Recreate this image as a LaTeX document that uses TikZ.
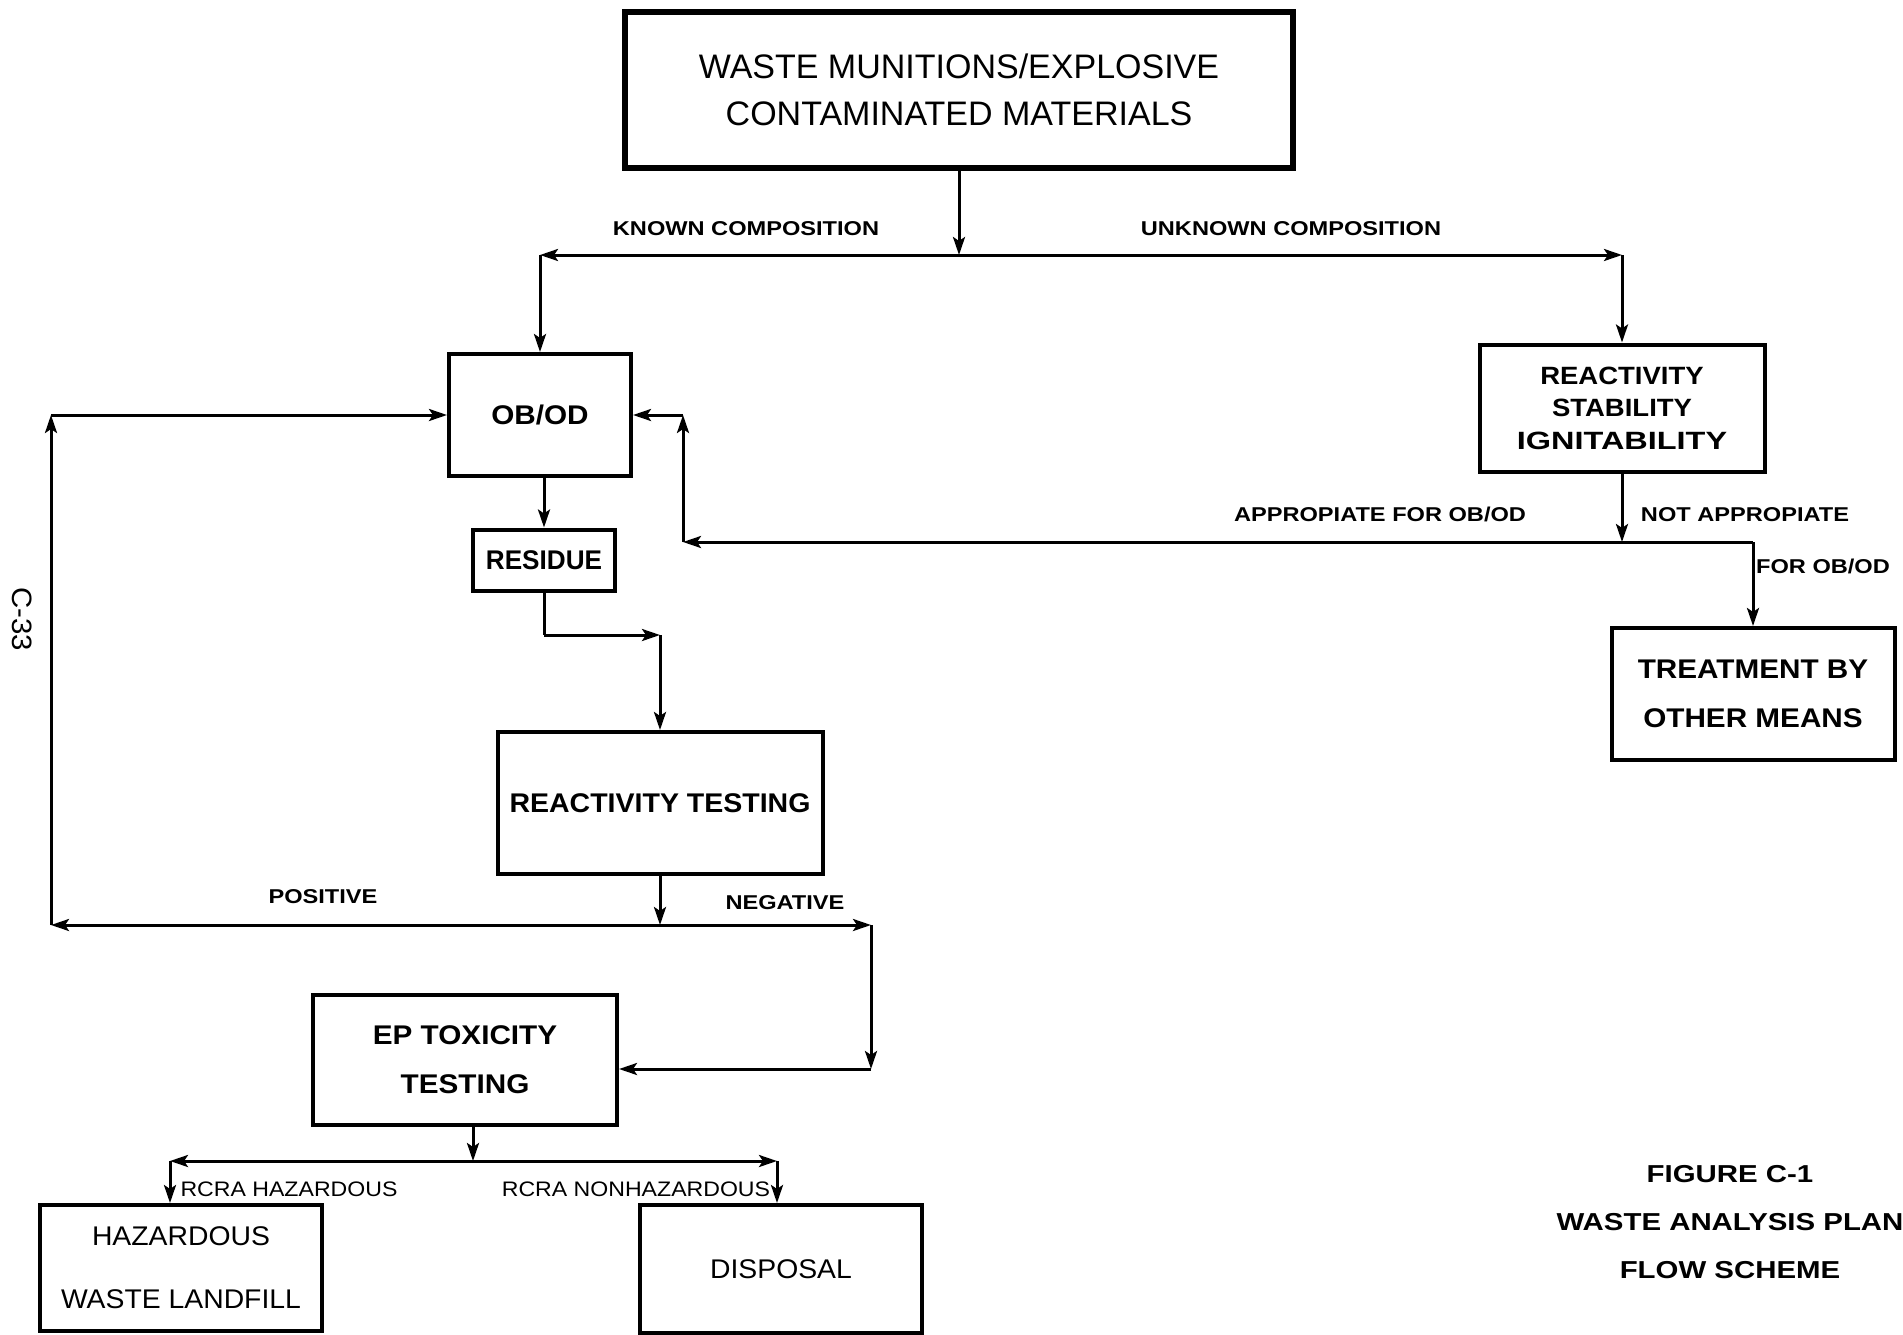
\documentclass[tikz,border=0pt]{standalone}
\usepackage{fontspec}
\usepackage{graphicx}
\usetikzlibrary{arrows.meta,calc}
\newfontfamily\labfam[FakeStretch=1.18]{Liberation Sans}
\newfontfamily\boxfam[FakeStretch=1.1]{Liberation Sans}
\newfontfamily\titlefam[FakeStretch=1.2]{Liberation Sans}
\newfontfamily\plainfam[FakeStretch=1.05]{Liberation Sans}
\newfontfamily\topfam{Liberation Sans}
\newfontfamily\rcrafam[FakeStretch=1.1]{Liberation Sans}
\tikzset{
  box/.style={draw, line width=4pt, inner sep=0pt, align=center, anchor=center},
  bxtxt/.style={font=\boxfam\bfseries\fontsize{27}{49}\selectfont},
  lab/.style={inner sep=0pt, font=\labfam\bfseries\fontsize{20}{24}\selectfont},
  rcra/.style={inner sep=0pt, font=\rcrafam\fontsize{21}{24}\selectfont},
  conn/.style={line width=3pt},
  tip/.style={-{Stealth[length=18pt,width=12pt,inset=4pt]}}
}
\begin{document}
\begin{tikzpicture}[x=1pt,y=-1pt]
\useasboundingbox[fill=white] (0,0) rectangle (1903,1335);

% boxes
\node[box, line width=6pt, minimum width=668pt, minimum height=155pt,
      font=\topfam\fontsize{34}{47}\selectfont] (top) at (959,90)
      {WASTE MUNITIONS/EXPLOSIVE\\CONTAMINATED MATERIALS};
\node[box, bxtxt, minimum width=182pt, minimum height=122pt] (obod) at (540,415) {OB/OD};
\node[box, bxtxt, minimum width=142pt, minimum height=61pt] (res) at (544,560) {\scalebox{0.88}[1]{RESIDUE}};
\node[box, bxtxt, minimum width=325pt, minimum height=142pt] (rtest) at (660,803) {\scalebox{0.96}[1]{REACTIVITY TESTING}};
\node[box, bxtxt, minimum width=304pt, minimum height=130pt] (ep) at (465,1060) {EP TOXICITY\\TESTING};
\node[box, minimum width=282pt, minimum height=126pt,
      font=\plainfam\fontsize{27}{63}\selectfont] (haz) at (181,1268) {HAZARDOUS\\WASTE LANDFILL};
\node[box, minimum width=282pt, minimum height=128pt,
      font=\plainfam\fontsize{27}{40}\selectfont] (disp) at (781,1269) {DISPOSAL};
\node[box, minimum width=285pt, minimum height=127pt,
      font=\boxfam\bfseries\fontsize{25}{32.5}\selectfont] (rsi) at (1622,408)
      {REACTIVITY\\STABILITY\\\scalebox{1.18}[1]{IGNITABILITY}};
\node[box, bxtxt, minimum width=283pt, minimum height=132pt] (treat) at (1753,694)
      {TREATMENT BY\\OTHER MEANS};

% junctions and corners
\coordinate (j1) at (959,255);
\coordinate (c1) at (obod.north |- j1);
\coordinate (c2) at (rsi.north |- j1);
\coordinate (j2) at (1622,542);
\coordinate (c3) at (treat.north |- j2);
\coordinate (c4) at (683,542);
\coordinate (c5) at (c4 |- obod.east);
\coordinate (c6) at (544,635);
\coordinate (c7) at (rtest.north |- c6);
\coordinate (j3) at (660,925);
\coordinate (c8) at (51,925);
\coordinate (c9) at (c8 |- obod.west);
\coordinate (c10) at (871,925);
\coordinate (c11) at (871,1069);
\coordinate (j4) at (473,1161);
\coordinate (c12) at (170,1161);
\coordinate (c13) at (777,1161);

% connectors
\draw[conn,tip] (top.south -| j1) -- (j1);
\draw[conn,tip] (j1) -- (c1);
\draw[conn,tip] (c1) -- (obod.north);
\draw[conn,tip] (j1) -- (c2);
\draw[conn,tip] (c2) -- (rsi.north);

\draw[conn,tip] (rsi.south) -- (j2);
\draw[conn] (j2) -- (c3);
\draw[conn,tip] (c3) -- (treat.north);
\draw[conn,tip] (j2) -- (c4);
\draw[conn,tip] (c4) -- (c5);
\draw[conn,tip] (c5) -- (obod.east);

\draw[conn,tip] (res.north |- obod.south) -- (res.north);
\draw[conn] (res.south) -- (c6);
\draw[conn,tip] (c6) -- (c7);
\draw[conn,tip] (c7) -- (rtest.north);

\draw[conn,tip] (rtest.south) -- (j3);
\draw[conn,tip] (j3) -- (c8);
\draw[conn,tip] (c8) -- (c9);
\draw[conn,tip] (c9) -- (obod.west);
\draw[conn,tip] (j3) -- (c10);
\draw[conn,tip] (c10) -- (c11);
\draw[conn,tip] (c11) -- (ep.east |- c11);

\draw[conn,tip] (ep.south -| j4) -- (j4);
\draw[conn,tip] (j4) -- (c12);
\draw[conn,tip] (c12) -- (c12 |- haz.north);
\draw[conn,tip] (j4) -- (c13);
\draw[conn,tip] (c13) -- (c13 |- disp.north);

% labels
\node[lab] (lknown) at (746,229) {KNOWN COMPOSITION};
\node[lab] (lunknown) at (1291,229) {UNKNOWN COMPOSITION};
\node[lab] (lapp) at (1380,514) {APPROPIATE FOR OB/OD};
\node[lab] (lnot) at (1745,515) {NOT APPROPIATE};
\node[lab] (lfor) at (1823,566) {FOR OB/OD};
\node[lab] (lpos) at (323,897) {POSITIVE};
\node[lab] (lneg) at (785,903) {NEGATIVE};
\node[rcra] (lhaz) at (289,1189) {RCRA HAZARDOUS};
\node[rcra] (lnonhaz) at (636,1189) {RCRA NONHAZARDOUS};
\node[inner sep=0pt, rotate=-90, font=\plainfam\fontsize{28}{30}\selectfont] (page) at (22,619) {C-33};
\node[inner sep=0pt, align=center, font=\titlefam\bfseries\fontsize{24.5}{48}\selectfont] (title) at (1730,1222)
  {FIGURE C-1\\WASTE ANALYSIS PLAN\\FLOW SCHEME};
\end{tikzpicture}
\end{document}
